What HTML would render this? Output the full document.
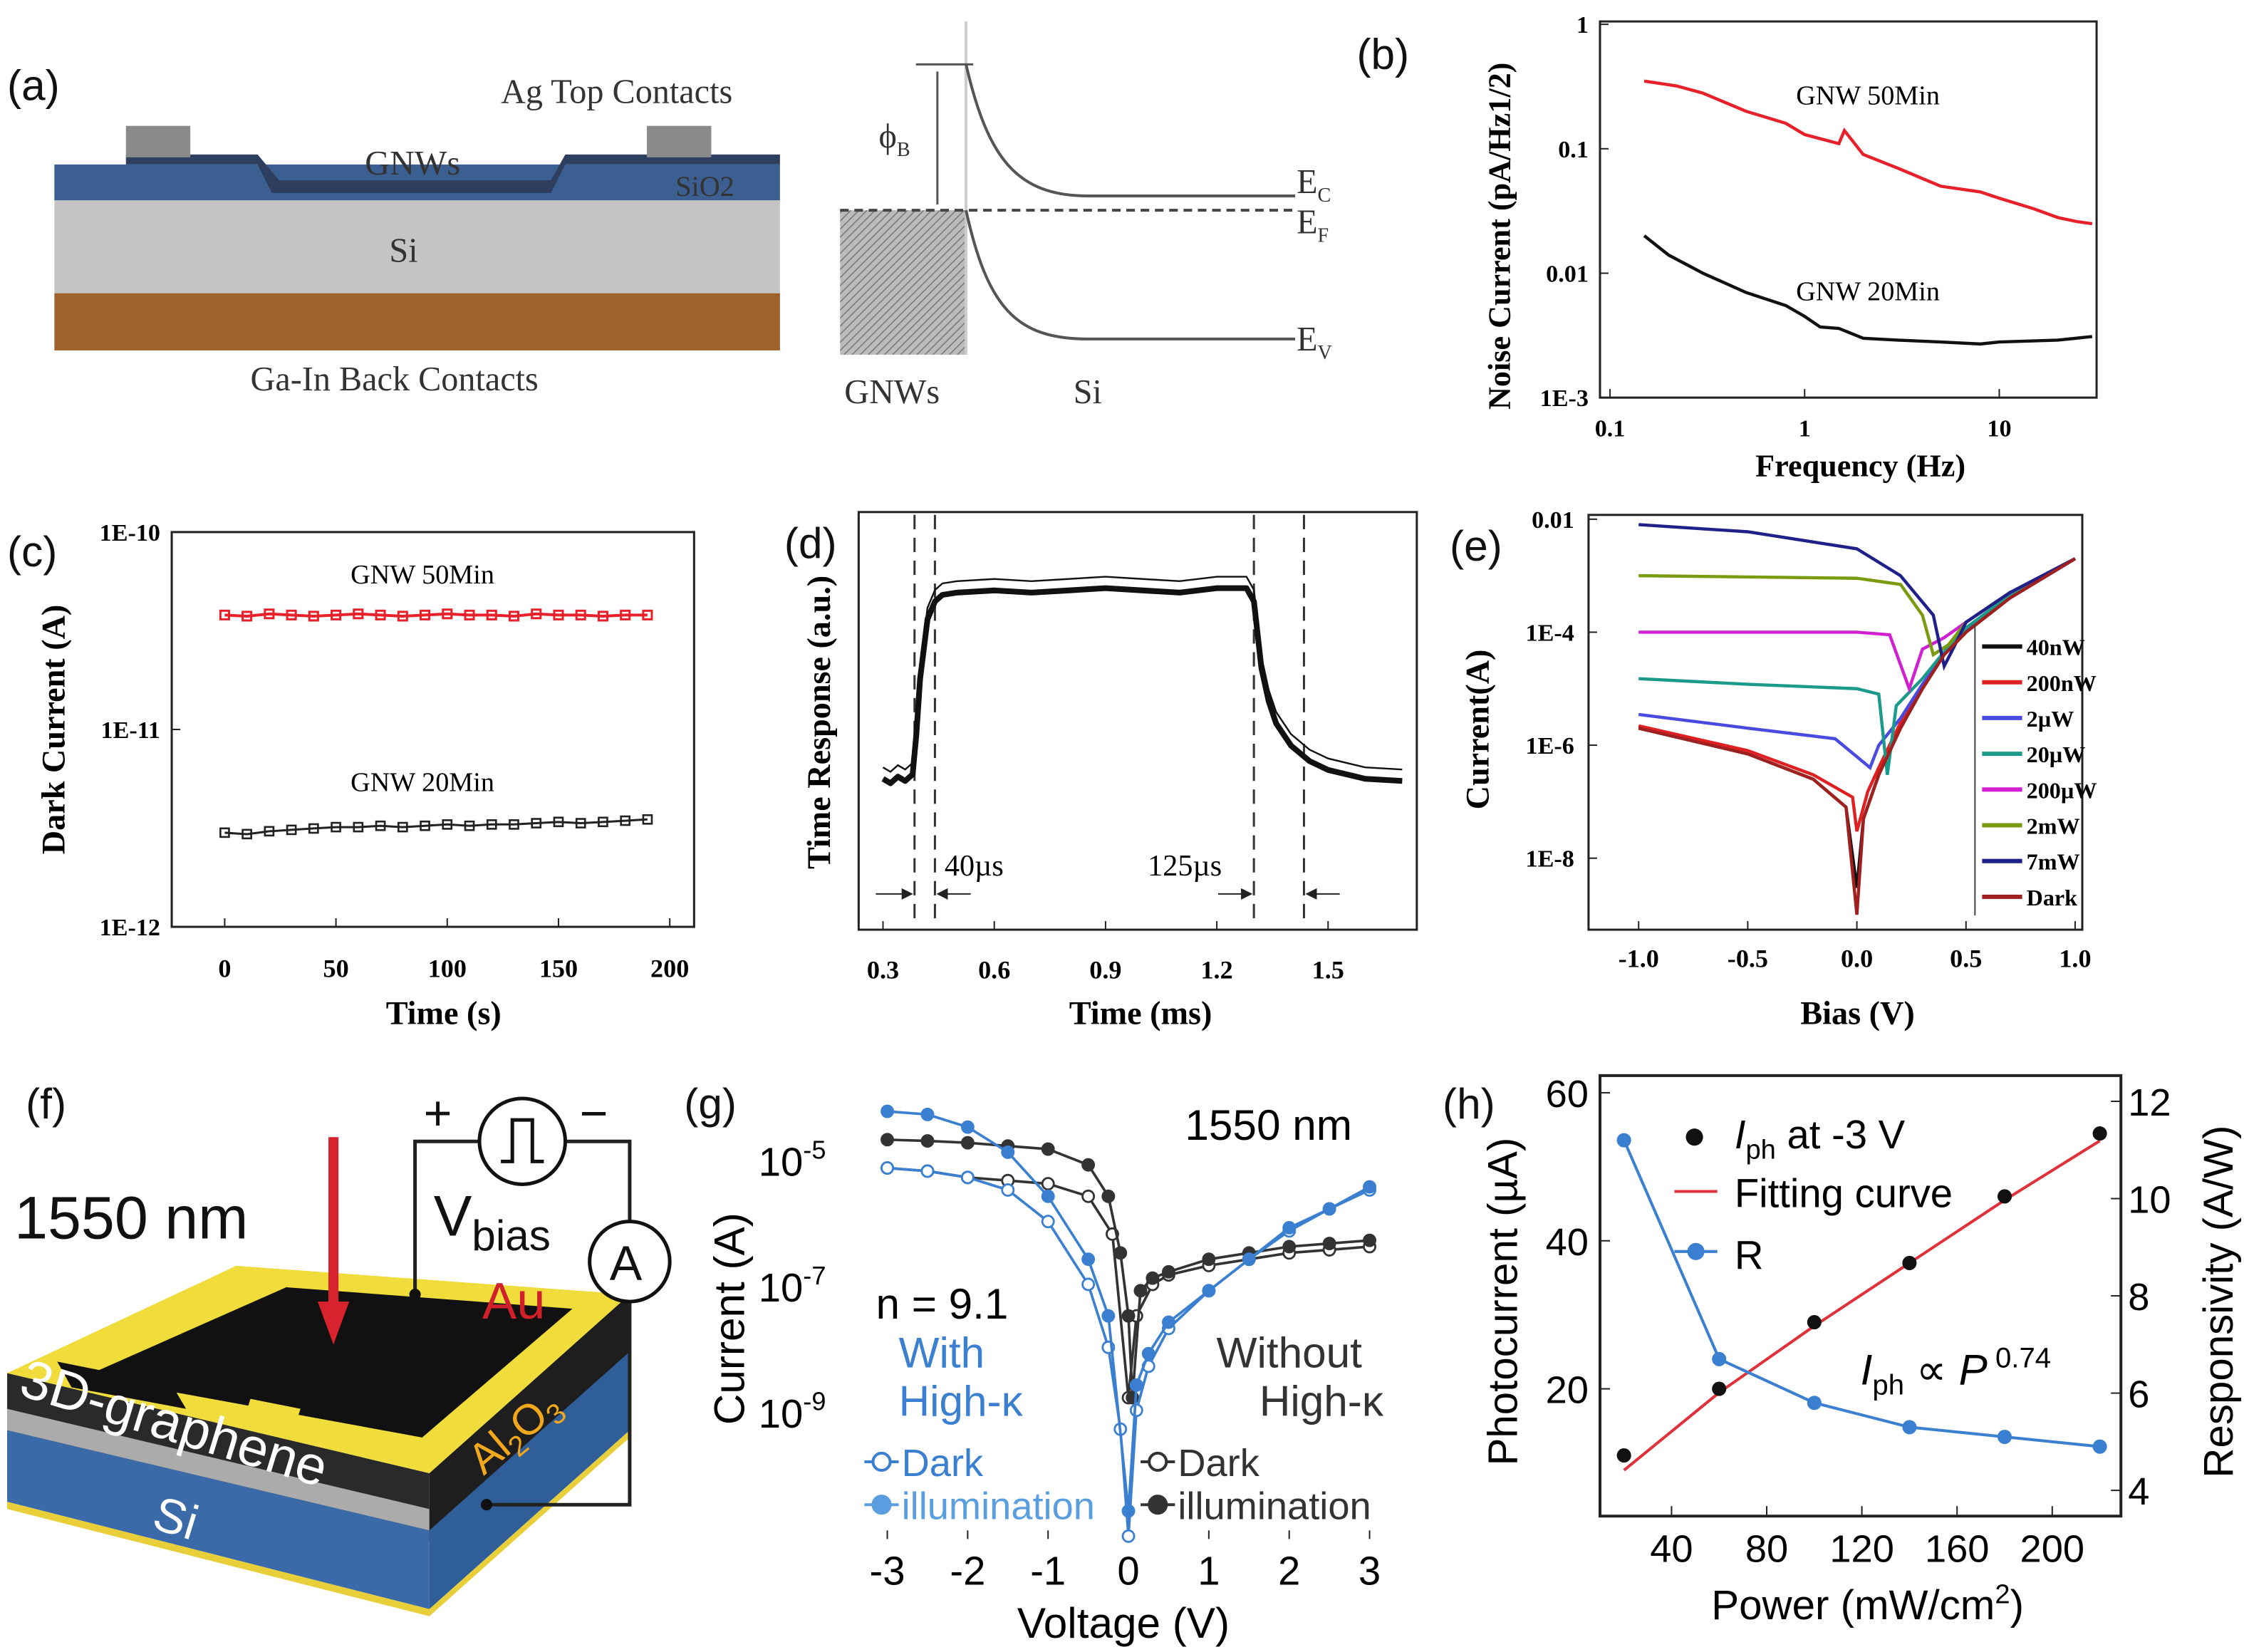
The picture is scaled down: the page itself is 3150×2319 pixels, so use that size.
<!DOCTYPE html>
<html><head><meta charset="utf-8"><style>
html,body{margin:0;padding:0;background:#fff;}
svg{display:block;}
</style></head><body>
<svg id="fig" xmlns="http://www.w3.org/2000/svg" width="3150" height="2319" viewBox="0 0 1568 1155" preserveAspectRatio="none">
<defs>
<pattern id="hatch" width="4" height="4" patternUnits="userSpaceOnUse" patternTransform="rotate(45)"><rect width="4" height="4" fill="#bbb"/><line x1="0" y1="0" x2="0" y2="4" stroke="#777" stroke-width="1.5"/></pattern>
<marker id="arr" markerWidth="8" markerHeight="8" refX="7" refY="4" orient="auto"><path d="M0,0 L8,4 L0,8 z" fill="#222"/></marker>
</defs>
<g font-family="Liberation Sans, sans-serif" font-size="30" fill="#111">
<text x="5" y="70">(a)</text>
<text x="948" y="48">(b)</text>
<text x="5" y="396">(c)</text>
<text x="548" y="390">(d)</text>
<text x="1013" y="392">(e)</text>
<text x="18" y="782">(f)</text>
<text x="478" y="782">(g)</text>
<text x="1008" y="782">(h)</text>
</g>
<g>
<rect x="38" y="205" width="507" height="40" fill="#a0622d"/>
<rect x="38" y="138" width="507" height="67" fill="#c4c4c4"/>
<rect x="38" y="115" width="507" height="25" fill="#3a5f90"/>
<path d="M38,115 L88,115 L88,108 L180,108 L195,126 L385,126 L395,108 L545,108 L545,115 L395,115 L385,135 L190,135 L180,115 L38,115z" fill="#2d3e5e"/>
<rect x="88" y="88" width="45" height="22" fill="#8a8a8a"/>
<rect x="452" y="88" width="45" height="22" fill="#8a8a8a"/>
<g font-family="Liberation Serif, serif" fill="#333" font-size="24">
<text x="350" y="72">Ag Top Contacts</text>
<text x="255" y="122">GNWs</text>
<text x="472" y="137" font-size="20">SiO2</text>
<text x="272" y="183">Si</text>
<text x="175" y="273">Ga-In Back Contacts</text>
</g>
</g>
<g>
<rect x="587" y="147" width="88" height="101" fill="url(#hatch)"/>
<line x1="675" y1="15" x2="675" y2="248" stroke="#ccc" stroke-width="2"/>
<line x1="587" y1="147" x2="905" y2="147" stroke="#444" stroke-width="2" stroke-dasharray="6,4"/>
<path d="M675,45 C690,110 710,137 760,137 L905,137" fill="none" stroke="#555" stroke-width="2"/>
<path d="M675,147 C690,215 710,237 760,237 L905,237" fill="none" stroke="#555" stroke-width="2"/>
<line x1="640" y1="45" x2="680" y2="45" stroke="#555" stroke-width="1.5"/>
<line x1="655" y1="50" x2="655" y2="143" stroke="#555" stroke-width="1.5"/>
<g font-family="Liberation Serif, serif" fill="#333" font-size="24">
<text x="614" y="103">ϕ<tspan font-size="14" dy="6">B</tspan></text>
<text x="906" y="135">E<tspan font-size="14" dy="6">C</tspan></text>
<text x="906" y="163">E<tspan font-size="14" dy="6">F</tspan></text>
<text x="906" y="245">E<tspan font-size="14" dy="6">V</tspan></text>
<text x="590" y="282">GNWs</text>
<text x="750" y="282">Si</text>
</g>
</g>
<g>
<polygon points="5,960 300,1030 300,1078 5,1005" fill="#2a2a2a"/>
<polygon points="5,985 300,1055 300,1070 5,1000" fill="#ccc" opacity="0.8"/>
<polygon points="5,1000 300,1070 300,1125 5,1050" fill="#3a6aa8"/>
<polygon points="300,1030 440,905 440,950 300,1078" fill="#1e1e1e"/>
<polygon points="300,1070 440,945 440,1000 300,1125" fill="#2f5e99"/>
<polygon points="5,1050 300,1125 440,1000 440,1005 300,1130 5,1055" fill="#e8cf3a"/>
<polygon points="165,885 440,905 300,1030 5,960" fill="#f0dc3a"/>
<polygon points="200,900 400,915 295,1005 60,962" fill="#111"/>
<polygon points="40,952 120,968 130,985 50,970" fill="#111"/>
<polygon points="175,978 210,985 205,1000 170,994" fill="#f0dc3a"/>
<line x1="233" y1="795" x2="233" y2="920" stroke="#d8222e" stroke-width="7"/>
<polygon points="222,910 244,910 233,940" fill="#d8222e"/>
<path d="M290,905 L290,798 L335,798 M395,798 L440,798 L440,854 M440,910 L440,1052 L340,1052" fill="none" stroke="#222" stroke-width="2.5"/>
<circle cx="290" cy="905" r="4" fill="#111"/><circle cx="340" cy="1052" r="4" fill="#111"/>
<circle cx="365" cy="798" r="30" fill="#fff" stroke="#111" stroke-width="2.5"/>
<path d="M350,812 L358,812 L358,783 L372,783 L372,812 L380,812" fill="none" stroke="#111" stroke-width="2.5"/>
<circle cx="440" cy="882" r="28" fill="#fff" stroke="#111" stroke-width="2.5"/>
<g font-family="Liberation Sans, sans-serif" fill="#111">
<text x="10" y="866" font-size="42">1550 nm</text>
<text x="296" y="790" font-size="34">+</text>
<text x="405" y="790" font-size="34">−</text>
<text x="303" y="864" font-size="40">V<tspan font-size="30" dy="10">bias</tspan></text>
<text x="426" y="895" font-size="34">A</text>
<text x="337" y="922" font-size="36" fill="#d0202a">Au</text>
<text x="12" y="975" font-size="38" fill="#fff" transform="rotate(17 12 975)">3D-graphene</text>
<text x="105" y="1068" font-size="34" fill="#fff" transform="rotate(17 105 1068)">Si</text>
<text x="338" y="1032" font-size="30" fill="#f2a81c" transform="rotate(-40 338 1032)">Al<tspan font-size="20" dy="6">2</tspan><tspan dy="-6">O</tspan><tspan font-size="20" dy="6">3</tspan></text>
</g>
</g>
<g id="charts"></g>
</svg>
<script>
// ---------- DATA ----------
const bFreq50 = [0.15,0.22,0.3,0.5,0.8,1.0,1.5,1.6,2,3,5,8,10,15,20,25,30];
const bNoise50 = [0.35,0.32,0.28,0.2,0.16,0.13,0.11,0.14,0.09,0.07,0.05,0.045,0.04,0.033,0.028,0.026,0.025];
const bFreq20 = [0.15,0.2,0.3,0.5,0.8,1.0,1.2,1.5,2,3,5,8,10,20,30];
const bNoise20 = [0.02,0.014,0.01,0.007,0.0055,0.0045,0.0037,0.0036,0.003,0.0029,0.0028,0.0027,0.0028,0.0029,0.0031];
const bXTicks = [0.1,1,10];
const bXTickLabels = ["0.1","1","10"];
const bYTicks = [1,0.1,0.01,0.001];
const bYTickLabels = ["1","0.1","0.01","1E-3"];
const cTime = [0,10,20,30,40,50,60,70,80,90,100,110,120,130,140,150,160,170,180,190];
const cDark50 = [3.8e-11,3.75e-11,3.85e-11,3.8e-11,3.75e-11,3.8e-11,3.85e-11,3.8e-11,3.75e-11,3.8e-11,3.85e-11,3.8e-11,3.8e-11,3.75e-11,3.85e-11,3.8e-11,3.8e-11,3.75e-11,3.8e-11,3.8e-11];
const cDark20 = [3.0e-12,2.95e-12,3.05e-12,3.1e-12,3.15e-12,3.2e-12,3.2e-12,3.25e-12,3.2e-12,3.25e-12,3.3e-12,3.25e-12,3.3e-12,3.3e-12,3.35e-12,3.4e-12,3.35e-12,3.4e-12,3.45e-12,3.5e-12];
const cXTicks = [0,50,100,150,200];
const cYTickLabels = ["1E-10","1E-11","1E-12"];
const dTime = [0.30,0.32,0.34,0.36,0.38,0.39,0.40,0.42,0.44,0.46,0.50,0.60,0.70,0.80,0.90,1.00,1.10,1.20,1.28,1.30,1.32,1.34,1.36,1.40,1.45,1.50,1.60,1.70];
const dResp = [0.10,0.08,0.11,0.09,0.12,0.30,0.55,0.82,0.90,0.93,0.94,0.95,0.94,0.95,0.96,0.95,0.94,0.96,0.96,0.90,0.60,0.45,0.35,0.25,0.18,0.14,0.10,0.09];
const dXTicks = [0.3,0.6,0.9,1.2,1.5];
const dMarkers = [0.385,0.44,1.30,1.435];
const eLabels = ["40nW","200nW","2µW","20µW","200µW","2mW","7mW","Dark"];
const eColors = ["#111","#e02020","#4a4ae0","#1a9a8a","#d020d0","#7a9a10","#20208a","#a02020"];
const eV = [
 [-1,-0.5,-0.2,-0.05,0,0.03,0.1,0.2,0.3,0.4,0.5,0.7,1],
 [-1,-0.5,-0.2,-0.02,0,0.05,0.1,0.2,0.3,0.4,0.5,0.7,1],
 [-1,-0.5,-0.1,0.06,0.1,0.2,0.3,0.4,0.5,0.7,1],
 [-1,-0.5,0,0.1,0.14,0.18,0.3,0.4,0.5,0.7,1],
 [-1,0,0.15,0.24,0.3,0.4,0.5,0.7,1],
 [-1,0,0.2,0.3,0.35,0.42,0.5,0.7,1],
 [-1,-0.5,0,0.2,0.35,0.4,0.45,0.5,0.7,1],
 [-1,-0.5,-0.2,-0.05,0,0.03,0.1,0.2,0.3,0.4,0.5,0.7,1]];
const eI = [
 [2e-6,7e-7,2.5e-7,8e-8,3e-9,5e-8,3e-7,2e-6,1e-5,4e-5,1e-4,4e-4,2e-3],
 [2.2e-6,8e-7,3e-7,1.2e-7,3e-8,1.5e-7,4e-7,2.5e-6,1e-5,4e-5,1e-4,4e-4,2e-3],
 [3.5e-6,2e-6,1.3e-6,4e-7,1e-6,3e-6,1.2e-5,4e-5,1.1e-4,4e-4,2e-3],
 [1.5e-5,1.2e-5,1e-5,8e-6,3e-7,5e-6,1.5e-5,4.5e-5,1.2e-4,4.5e-4,2e-3],
 [1e-4,1e-4,9e-5,1e-5,5e-5,8e-5,1.5e-4,5e-4,2e-3],
 [1e-3,9e-4,7e-4,2e-4,4e-5,6e-5,1.5e-4,5e-4,2e-3],
 [8e-3,6e-3,3e-3,1e-3,2e-4,2.5e-5,6e-5,1.5e-4,5e-4,2e-3],
 [2e-6,7e-7,2.5e-7,8e-8,1e-9,5e-8,3e-7,2e-6,1e-5,4e-5,1e-4,4e-4,2e-3]];
const eXTicks = [-1,-0.5,0,0.5,1];
const eXTickLabels = ["-1.0","-0.5","0.0","0.5","1.0"];
const eYTicks = [1e-2,1e-4,1e-6,1e-8];
const eYTickLabels = ["0.01","1E-4","1E-6","1E-8"];
const gVBlueIll = [-3,-2.5,-2,-1.5,-1,-0.5,-0.25,0,0.1,0.25,0.5,1,1.5,2,2.5,3];
const gBlueIll = [-4.25,-4.3,-4.5,-4.9,-5.6,-6.6,-7.5,-10.6,-8.6,-8.1,-7.6,-7.1,-6.6,-6.1,-5.8,-5.45];
const gVBlueDark = [-3,-2.5,-2,-1.5,-1,-0.5,-0.25,-0.1,0,0.1,0.25,0.5,1,1.5,2,2.5,3];
const gBlueDark = [-5.15,-5.2,-5.3,-5.5,-6,-7,-8,-9.3,-11,-9.0,-8.3,-7.7,-7.1,-6.6,-6.15,-5.8,-5.5];
const gVBlackIll = [-3,-2.5,-2,-1.5,-1,-0.5,-0.25,-0.1,0,0.05,0.15,0.3,0.5,1,1.5,2,2.5,3];
const gBlackIll = [-4.7,-4.72,-4.75,-4.8,-4.85,-5.1,-5.6,-6.5,-7.5,-8.8,-7.1,-6.9,-6.8,-6.6,-6.5,-6.4,-6.35,-6.3];
const gVBlackDark = [-3,-2.5,-2,-1.5,-1,-0.5,-0.2,0,0.1,0.3,0.5,1,1.5,2,2.5,3];
const gBlackDark = [-5.15,-5.2,-5.3,-5.35,-5.4,-5.6,-6.2,-8.8,-7.5,-7,-6.85,-6.7,-6.6,-6.5,-6.45,-6.4];
const gXTicks = [-3,-2,-1,0,1,2,3];
const gYTicks = [-5,-7,-9];
const hPower = [20,60,100,140,180,220];
const hIph = [11,20,29,37,46,54.5];
const hFit = [9,19.5,28.5,37,45.5,53.5];
const hR = [11.2,6.7,5.8,5.3,5.1,4.9];
const hXTicks = [40,80,120,160,200];
const hYLTicks = [20,40,60];
const hYRTicks = [4,6,8,10,12];

// ---------- HELPERS ----------
const NS = "http://www.w3.org/2000/svg";
const root = document.getElementById("charts");
function mk(tag, attrs, parent) {
  const el = document.createElementNS(NS, tag);
  for (const k in attrs) el.setAttribute(k, attrs[k]);
  (parent || root).appendChild(el);
  return el;
}
function txt(x, y, s, attrs, parent) {
  const el = mk("text", Object.assign({x: x, y: y}, attrs), parent);
  el.textContent = s;
  return el;
}
function logScale(v0, p0, v1, p1) { return v => p0 + (Math.log10(v) - Math.log10(v0)) * (p1 - p0) / (Math.log10(v1) - Math.log10(v0)); }
function linScale(v0, p0, v1, p1) { return v => p0 + (v - v0) * (p1 - p0) / (v1 - v0); }
function pathD(xs, ys, fx, fy) { return xs.map((x, i) => (i ? "L" : "M") + fx(x).toFixed(1) + "," + fy(ys[i]).toFixed(1)).join(" "); }
const SERIF = {"font-family": "Liberation Serif, serif", "font-weight": "bold"};
const SANS = {"font-family": "Liberation Sans, sans-serif"};

// ---------- (b) ----------
{
  const g = mk("g", {});
  
  
  const X = logScale(0.1, 1125, 10, 1397), Y = logScale(1, 17, 0.001, 278);
  const fr = mk("rect", {x: 1118, y: 15, width: 347, height: 263, fill: "none", stroke: "#222", "stroke-width": 1.5}, g);
  
  bXTicks.forEach((t, i) => {
    mk("line", {x1: X(t), y1: 278, x2: X(t), y2: 272, stroke: "#222"}, g);
    const l = txt(X(t), 305, bXTickLabels[i], Object.assign({"font-size": 17, "text-anchor": "middle"}, SERIF), g);
    
  });
  bYTicks.forEach((t, i) => {
    mk("line", {x1: 1118, y1: Y(t), x2: 1124, y2: Y(t), stroke: "#222"}, g);
    const l = txt(1110, Y(t) + 6, bYTickLabels[i], Object.assign({"font-size": 17, "text-anchor": "end"}, SERIF), g);
    
  });
  const p1 = mk("path", {d: pathD(bFreq50, bNoise50, X, Y), fill: "none", stroke: "#e8202a", "stroke-width": 2.2}, g);
  
  const p2 = mk("path", {d: pathD(bFreq20, bNoise20, X, Y), fill: "none", stroke: "#111", "stroke-width": 2.2}, g);
  
  txt(1255, 73, "GNW 50Min", {"font-size": 19, "font-family": "Liberation Serif, serif"}, g);
  txt(1255, 210, "GNW 20Min", {"font-size": 19, "font-family": "Liberation Serif, serif"}, g);
  const xt = txt(1300, 333, "Frequency (Hz)", Object.assign({"font-size": 22, "text-anchor": "middle"}, SERIF), g);
  
  const yt = txt(1055, 165, "Noise Current (pA/Hz1/2)", Object.assign({"font-size": 22, "text-anchor": "middle", transform: "rotate(-90 1055 165)"}, SERIF), g);
  
}
// ---------- (c) ----------
{
  const g = mk("g", {});
  
  
  const X = linScale(0, 157, 200, 468), Y = logScale(1e-10, 372, 1e-12, 648);
  mk("rect", {x: 120, y: 372, width: 365, height: 276, fill: "none", stroke: "#222", "stroke-width": 1.5}, g);
  cXTicks.forEach(t => {
    mk("line", {x1: X(t), y1: 648, x2: X(t), y2: 642, stroke: "#222"}, g);
    const l = txt(X(t), 683, String(t), Object.assign({"font-size": 18, "text-anchor": "middle"}, SERIF), g);
    
  });
  [1e-10, 1e-11, 1e-12].forEach((t, i) => {
    mk("line", {x1: 120, y1: Y(t), x2: 126, y2: Y(t), stroke: "#222"}, g);
    const l = txt(112, Y(t) + 6, cYTickLabels[i], Object.assign({"font-size": 17, "text-anchor": "end"}, SERIF), g);
    
  });
  const p1 = mk("path", {d: pathD(cTime, cDark50, X, Y), fill: "none", stroke: "#e8202a", "stroke-width": 2}, g);
  
  const p2 = mk("path", {d: pathD(cTime, cDark20, X, Y), fill: "none", stroke: "#222", "stroke-width": 1.5}, g);
  
  cTime.forEach((t, i) => {
    const m1 = mk("rect", {x: X(t) - 3, y: Y(cDark50[i]) - 3, width: 6, height: 6, fill: "none", stroke: "#e8202a", "stroke-width": 1.5}, g);
    
    const m2 = mk("rect", {x: X(t) - 3, y: Y(cDark20[i]) - 3, width: 6, height: 6, fill: "none", stroke: "#222", "stroke-width": 1.3}, g);
    
  });
  txt(245, 408, "GNW 50Min", {"font-size": 19, "font-family": "Liberation Serif, serif"}, g);
  txt(245, 553, "GNW 20Min", {"font-size": 19, "font-family": "Liberation Serif, serif"}, g);
  const xt = txt(310, 716, "Time (s)", Object.assign({"font-size": 23, "text-anchor": "middle"}, SERIF), g);
  
  const yt = txt(45, 510, "Dark Current (A)", Object.assign({"font-size": 23, "text-anchor": "middle", transform: "rotate(-90 45 510)"}, SERIF), g);
  
}
// ---------- (d) ----------
{
  const g = mk("g", {});
  
  
  const X = linScale(0.3, 617, 1.5, 928), Y = linScale(0, 560, 1, 405);
  mk("rect", {x: 600, y: 358, width: 390, height: 292, fill: "none", stroke: "#222", "stroke-width": 1.5}, g);
  dXTicks.forEach(t => {
    mk("line", {x1: X(t), y1: 650, x2: X(t), y2: 644, stroke: "#222"}, g);
    const l = txt(X(t), 684, t.toFixed(1), Object.assign({"font-size": 18, "text-anchor": "middle"}, SERIF), g);
    
  });
  dMarkers.forEach(t => {
    const l = mk("line", {x1: X(t), y1: 360, x2: X(t), y2: 648, stroke: "#333", "stroke-width": 1.5, "stroke-dasharray": "10,6"}, g);
    
  });
  const p = mk("path", {d: pathD(dTime, dResp, X, Y), fill: "none", stroke: "#111", "stroke-width": 4, "stroke-linejoin": "round"}, g);
  
  const p2 = mk("path", {d: pathD(dTime, dResp, X, Y), fill: "none", stroke: "#111", "stroke-width": 1.2, transform: "translate(0,-8)"}, g);
  
  mk("line", {x1: 612, y1: 625, x2: X(dMarkers[0]) - 2, y2: 625, stroke: "#222", "marker-end": "url(#arr)"}, g);
  mk("line", {x1: X(dMarkers[1]) + 25, y1: 625, x2: X(dMarkers[1]) + 2, y2: 625, stroke: "#222", "marker-end": "url(#arr)"}, g);
  mk("line", {x1: X(dMarkers[2]) - 25, y1: 625, x2: X(dMarkers[2]) - 2, y2: 625, stroke: "#222", "marker-end": "url(#arr)"}, g);
  mk("line", {x1: X(dMarkers[3]) + 25, y1: 625, x2: X(dMarkers[3]) + 2, y2: 625, stroke: "#222", "marker-end": "url(#arr)"}, g);
  txt(660, 612, "40µs", {"font-size": 21, "font-family": "Liberation Serif, serif"}, g);
  txt(802, 612, "125µs", {"font-size": 21, "font-family": "Liberation Serif, serif"}, g);
  const xt = txt(797, 716, "Time (ms)", Object.assign({"font-size": 23, "text-anchor": "middle"}, SERIF), g);
  
  const yt = txt(580, 505, "Time Response (a.u.)", Object.assign({"font-size": 23, "text-anchor": "middle", transform: "rotate(-90 580 505)"}, SERIF), g);
  
}
// ---------- (e) ----------
{
  const g = mk("g", {});
  
  
  const X = linScale(-1, 1145, 1, 1450), Y = logScale(1e-2, 363, 1e-8, 600);
  mk("rect", {x: 1110, y: 360, width: 345, height: 290, fill: "none", stroke: "#222", "stroke-width": 1.5}, g);
  eXTicks.forEach((t, i) => {
    mk("line", {x1: X(t), y1: 650, x2: X(t), y2: 644, stroke: "#222"}, g);
    const l = txt(X(t), 676, eXTickLabels[i], Object.assign({"font-size": 18, "text-anchor": "middle"}, SERIF), g);
    
  });
  eYTicks.forEach((t, i) => {
    mk("line", {x1: 1110, y1: Y(t), x2: 1116, y2: Y(t), stroke: "#222"}, g);
    const l = txt(1100, Y(t) + 6, eYTickLabels[i], Object.assign({"font-size": 17, "text-anchor": "end"}, SERIF), g);
    
  });
  eV.forEach((vs, k) => {
    const p = mk("path", {d: pathD(vs, eI[k], X, Y), fill: "none", stroke: eColors[k], "stroke-width": 2.2}, g);
    
  });
  mk("line", {x1: 1380, y1: 437, x2: 1380, y2: 640, stroke: "#444"}, g);
  eLabels.forEach((s, k) => {
    const y = 452 + 25 * k;
    mk("line", {x1: 1385, y1: y, x2: 1413, y2: y, stroke: eColors[k], "stroke-width": 3}, g);
    const l = txt(1416, y + 6, s, Object.assign({"font-size": 16}, SERIF), g);
    
  });
  const xt = txt(1298, 716, "Bias (V)", Object.assign({"font-size": 23, "text-anchor": "middle"}, SERIF), g);
  
  const yt = txt(1040, 510, "Current(A)", Object.assign({"font-size": 23, "text-anchor": "middle", transform: "rotate(-90 1040 510)"}, SERIF), g);
  
}
// ---------- (g) ----------
{
  const g = mk("g", {});
  
  
  const X = linScale(-3, 620, 3, 957), Y = linScale(-5, 810, -9, 986);
  const BL = "#3a7fd0", BL2 = "#5a9ee0", BK = "#333";
  gXTicks.forEach(t => {
    mk("line", {x1: X(t), y1: 1070, x2: X(t), y2: 1076, stroke: "#222"}, g);
    const l = txt(X(t), 1108, String(t), Object.assign({"font-size": 28, "text-anchor": "middle"}, SANS), g);
    
  });
  gYTicks.forEach(t => {
    const l = txt(530, Y(t) + 12, "10", Object.assign({"font-size": 28}, SANS), g);
    const s = mk("tspan", {"font-size": 18, dy: -12}, l);
    s.textContent = String(t);
    
  });
  function series(vs, ys, col, filled, name) {
    const p = mk("path", {d: pathD(vs, ys, X, Y), fill: "none", stroke: col, "stroke-width": 1.8}, g);
    
    vs.forEach((v, i) => {
      const c = mk("circle", {cx: X(v), cy: Y(ys[i]), r: 4, fill: filled ? col : "#fff", stroke: col, "stroke-width": 1.4}, g);
      
    });
  }
  series(gVBlackDark, gBlackDark, BK, false, 'without-highk-dark');
  series(gVBlackIll, gBlackIll, BK, true, 'without-highk-illumination');
  series(gVBlueDark, gBlueDark, BL, false, 'with-highk-dark');
  series(gVBlueIll, gBlueIll, BL, true, 'with-highk-illumination');
  txt(828, 797, "1550 nm", Object.assign({"font-size": 30}, SANS), g);
  txt(612, 922, "n = 9.1", Object.assign({"font-size": 30}, SANS), g);
  txt(628, 956, "With", Object.assign({"font-size": 30, fill: BL}, SANS), g);
  txt(628, 990, "High-κ", Object.assign({"font-size": 30, fill: BL}, SANS), g);
  txt(850, 956, "Without", Object.assign({"font-size": 30, fill: "#333"}, SANS), g);
  txt(880, 990, "High-κ", Object.assign({"font-size": 30, fill: "#333"}, SANS), g);
  const leg = [[604, 1022, BL, false, "Dark"], [604, 1052, BL2, true, "illumination"], [797, 1022, BK, false, "Dark"], [797, 1052, BK, true, "illumination"]];
  leg.forEach(e => {
    mk("line", {x1: e[0], y1: e[1], x2: e[0] + 24, y2: e[1], stroke: e[2], "stroke-width": 2}, g);
    mk("circle", {cx: e[0] + 12, cy: e[1], r: 6, fill: e[3] ? e[2] : "#fff", stroke: e[2], "stroke-width": 2}, g);
    const l = txt(e[0] + 26, e[1] + 10, e[4], Object.assign({"font-size": 27, fill: e[2]}, SANS), g);
    
  });
  const xt = txt(785, 1145, "Voltage (V)", Object.assign({"font-size": 30, "text-anchor": "middle"}, SANS), g);
  
  const yt = txt(520, 922, "Current (A)", Object.assign({"font-size": 30, "text-anchor": "middle", transform: "rotate(-90 520 922)"}, SANS), g);
  
}
// ---------- (h) ----------
{
  const g = mk("g", {});
  
  
  const X = linScale(40, 1168, 200, 1434), YL = linScale(60, 764, 20, 971), YR = linScale(12, 770, 4, 1042);
  mk("rect", {x: 1118, y: 752, width: 364, height: 308, fill: "none", stroke: "#222", "stroke-width": 2}, g);
  hXTicks.forEach(t => {
    mk("line", {x1: X(t), y1: 1060, x2: X(t), y2: 1053, stroke: "#222"}, g);
    const l = txt(X(t), 1092, String(t), Object.assign({"font-size": 27, "text-anchor": "middle"}, SANS), g);
    
  });
  hYLTicks.forEach(t => {
    mk("line", {x1: 1118, y1: YL(t), x2: 1125, y2: YL(t), stroke: "#222"}, g);
    const l = txt(1110, YL(t) + 10, String(t), Object.assign({"font-size": 27, "text-anchor": "end"}, SANS), g);
    
  });
  hYRTicks.forEach(t => {
    mk("line", {x1: 1482, y1: YR(t), x2: 1475, y2: YR(t), stroke: "#222"}, g);
    const l = txt(1487, YR(t) + 10, String(t), Object.assign({"font-size": 27}, SANS), g);
    
  });
  const fit = mk("path", {d: pathD(hPower, hFit, X, YL), fill: "none", stroke: "#e0303a", "stroke-width": 2}, g);
  
  const rl = mk("path", {d: pathD(hPower, hR, X, YR), fill: "none", stroke: "#3a7fd0", "stroke-width": 2}, g);
  
  hPower.forEach((p, i) => {
    const c = mk("circle", {cx: X(p), cy: YL(hIph[i]), r: 5, fill: "#111"}, g);
    
    const r = mk("circle", {cx: X(p), cy: YR(hR[i]), r: 5, fill: "#3a7fd0"}, g);
    
  });
  mk("circle", {cx: 1184, cy: 795, r: 6, fill: "#111"}, g);
  const t1 = txt(1212, 803, "", Object.assign({"font-size": 28}, SANS), g);
  t1.innerHTML = '<tspan font-style="italic">I</tspan><tspan font-size="19" dy="7">ph</tspan><tspan dy="-7"> at -3 V</tspan>';
  
  mk("line", {x1: 1170, y1: 833, x2: 1200, y2: 833, stroke: "#e0303a", "stroke-width": 2}, g);
  const t2 = txt(1212, 844, "Fitting curve", Object.assign({"font-size": 28}, SANS), g);
  
  mk("line", {x1: 1170, y1: 875, x2: 1200, y2: 875, stroke: "#3a7fd0", "stroke-width": 2}, g);
  mk("circle", {cx: 1185, cy: 875, r: 6, fill: "#3a7fd0"}, g);
  const t3 = txt(1212, 887, "R", Object.assign({"font-size": 28}, SANS), g);
  
  const t4 = txt(1300, 968, "", Object.assign({"font-size": 30}, SANS), g);
  t4.innerHTML = '<tspan font-style="italic">I</tspan><tspan font-size="20" dy="7">ph</tspan><tspan dy="-7"> ∝ </tspan><tspan font-style="italic">P</tspan><tspan font-size="20" dy="-12"> 0.74</tspan>';
  
  const xt = txt(1305, 1132, "", Object.assign({"font-size": 29, "text-anchor": "middle"}, SANS), g);
  xt.innerHTML = 'Power (mW/cm<tspan font-size="19" dy="-11">2</tspan><tspan dy="11">)</tspan>';
  
  const yt = txt(1060, 910, "Photocurrent (µA)", Object.assign({"font-size": 29, "text-anchor": "middle", transform: "rotate(-90 1060 910)"}, SANS), g);
  
  const yr = txt(1560, 910, "Responsivity (A/W)", Object.assign({"font-size": 29, "text-anchor": "middle", transform: "rotate(-90 1560 910)"}, SANS), g);
  
}
</script>
</body></html>
